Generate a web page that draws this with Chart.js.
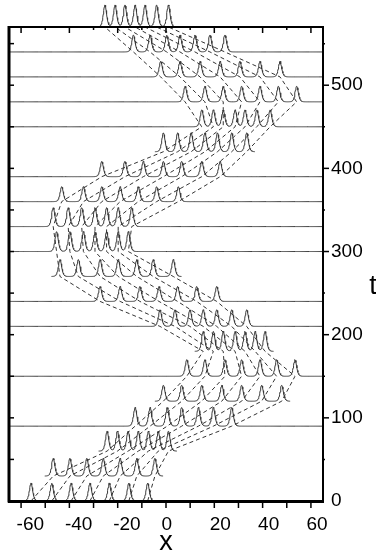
<!DOCTYPE html>
<html>
<head>
<meta charset="utf-8">
<script src="https://cdn.jsdelivr.net/npm/chart.js@4.4.0/dist/chart.umd.min.js"></script>
<style>
    html, body { margin: 0; padding: 0; background: #fff; }
    #caja { width: 376px; height: 557px; }
</style>
</head>
<body>
<div id="caja"><canvas id="grafica" width="376" height="557"></canvas></div>
<script>
// Tiempos de cada perfil
var tiempos = [0, 30, 60, 90, 120, 150, 180, 210, 240, 270, 300, 330, 360, 390, 420, 450, 480, 510, 540, 570];

// Posicion x de cada soliton en cada tiempo
var sol1 = [-55.9, -46.7, -24.4, -12.8, -1.1, 8.6, 15.4, -2.5, -27.3, -43.9, -45.3, -46.7, -43.2, -26.6, -1.1, 14.8, 7.9, -2.2, -13.5, -25.3];
var sol2 = [-47.3, -39.8, -20.1, -6.6, 6.5, 16.1, 19.6, 3.7, -19.0, -36.3, -39.8, -40.5, -34.2, -17.0, 4.8, 19.6, 16.1, 5.8, -6.6, -21.1];
var sol3 = [-39.3, -32.8, -15.7, 0.5, 14.8, 24.4, 23.7, 9.9, -10.8, -27.3, -34.2, -34.9, -26.6, -9.4, 10.4, 23.7, 23.7, 14.1, 0.3, -17.0];
var sol4 = [-31.5, -26.0, -11.5, 6.5, 23.1, 31.3, 28.6, 15.4, -2.9, -19.8, -29.4, -29.4, -19.0, -1.1, 16.1, 28.6, 31.3, 22.4, 5.8, -12.8];
var sol5 = [-23.5, -19.0, -7.3, 13.4, 31.3, 38.9, 32.7, 21.0, 4.8, -12.1, -24.6, -24.6, -11.5, 6.5, 21.3, 32.7, 38.9, 30.6, 12.0, -8.7];
var sol6 = [-15.4, -12.1, -3.2, 19.6, 39.6, 45.8, 36.9, 27.2, 12.7, -5.3, -19.8, -19.8, -3.9, 14.8, 27.2, 37.6, 46.5, 38.9, 18.2, -3.9];
var sol7 = [-7.6, -4.6, 1.0, 27.2, 47.9, 53.4, 41.0, 33.4, 21.0, 3.0, -15.6, -14.2, 5.1, 22.4, 33.4, 43.1, 54.1, 47.2, 24.4, 1.0];

// Altura de los picos en cada tiempo (unidades de t)
var alturas = [21.6, 21.3, 24, 22.5, 19.2, 20, 24, 20, 18, 20.4, 24, 22.8, 18, 18.4, 22.8, 20.4, 18.8, 18.8, 20.4, 26.5];

// Perfiles que llevan linea base completa
var lineaCompleta = [1, 0, 0, 1, 0, 1, 0, 1, 1, 0, 1, 1, 1, 1, 0, 1, 1, 1, 1, 1];

// Etiquetas de los ejes
var ticksX = [-60, -40, -20, 0, 20, 40, 60];
var ticksT = [0, 100, 200, 300, 400, 500];

var solitones = [sol1, sol2, sol3, sol4, sol5, sol6, sol7];
var ancho = 0.9;

// Perfil de un tiempo: linea base con un pico por soliton
function perfil(k) {
    var pos = solitones.map(function(s) { return s[k]; });
    var lo = lineaCompleta[k] ? -65 : Math.min.apply(null, pos) - 3.5;
    var hi = lineaCompleta[k] ? 65 : Math.max.apply(null, pos) + 3.5;
    var puntos = [];
    for (var x = lo; x <= hi + 1e-9; x += 0.2) {
        var y = tiempos[k];
        pos.forEach(function(p) {
            var s = 1 / Math.cosh((x - p) / ancho);
            y += alturas[k] * s * s;
        });
        puntos.push({x: x, y: y});
    }
    return puntos;
}

var datasets = [];

// Trayectorias punteadas
solitones.forEach(function(s) {
    datasets.push({
        data: s.map(function(v, k) { return {x: v, y: tiempos[k]}; }),
        borderColor: '#333',
        borderWidth: 1,
        borderDash: [4, 3],
        pointRadius: 0,
        tension: 0,
        clip: false
    });
});

// Perfiles
tiempos.forEach(function(t, k) {
    datasets.push({
        data: perfil(k),
        borderColor: '#3a3a3a',
        borderWidth: 1,
        pointRadius: 0,
        tension: 0,
        clip: false
    });
});

var fuente = '"Liberation Sans", Arial, sans-serif';

// Marco, marcas de los ejes y etiqueta t
var marco = {
    id: 'marco',
    afterDraw: function(chart) {
        var ctx = chart.ctx, a = chart.chartArea;
        var sx = chart.scales.x, sy = chart.scales.y;
        function linea(x1, y1, x2, y2) {
            ctx.beginPath();
            ctx.moveTo(x1, y1);
            ctx.lineTo(x2, y2);
            ctx.stroke();
        }
        ctx.save();
        ctx.strokeStyle = '#000';
        ctx.lineWidth = 3;
        linea(a.left, a.top - 1, a.left, a.bottom + 1.5);
        ctx.lineWidth = 2;
        linea(a.left, a.top, a.right, a.top);
        ctx.lineWidth = 1.5;
        for (var v = -60; v <= 60; v += 10) {
            var px = sx.getPixelForValue(v);
            var mayor = v % 20 === 0;
            linea(px, a.bottom, px, a.bottom + 7);
            linea(px, a.top, px, a.top + (mayor ? 6 : 3));
        }
        for (var w = 50; w <= 550; w += 50) {
            var py = sy.getPixelForValue(w);
            var mayorT = w % 100 === 0;
            linea(a.right, py, a.right + (mayorT ? 6 : 2), py);
            linea(a.left, py, a.left + 5, py);
        }
        ctx.fillStyle = '#000';
        ctx.font = '27px ' + fuente;
        ctx.textAlign = 'center';
        ctx.textBaseline = 'middle';
        ctx.fillText('t', a.right + 50, sy.getPixelForValue(258));
        ctx.restore();
    }
};

window.onload = function() {
    var ctx = document.getElementById('grafica').getContext('2d');
    window.myChart = new Chart(ctx, {
        type: 'line',
        data: { datasets: datasets },
        options: {
            responsive: false,
            devicePixelRatio: 1,
            animation: false,
            layout: { padding: { left: 9, top: 27, right: 0, bottom: 0 } },
            plugins: {
                legend: { display: false },
                tooltip: { enabled: false }
            },
            scales: {
                x: {
                    type: 'linear',
                    position: 'bottom',
                    min: -65,
                    max: 65,
                    afterBuildTicks: function(axis) {
                        axis.ticks = ticksX.map(function(v) { return {value: v}; });
                    },
                    afterFit: function(scale) { scale.height = 56; },
                    grid: { display: false, drawTicks: false },
                    border: { display: true, color: '#000', width: 3, z: 1 },
                    ticks: {
                        autoSkip: false,
                        maxRotation: 0,
                        align: 'start',
                        labelOffset: -4.5,
                        padding: 12,
                        color: '#000',
                        font: { family: fuente, size: 19 },
                        callback: function(v) { return String(v); }
                    },
                    title: {
                        display: true,
                        text: 'x',
                        color: '#000',
                        font: { family: fuente, size: 27, lineHeight: 1 },
                        padding: { top: 0, bottom: 1 }
                    }
                },
                y: {
                    type: 'linear',
                    position: 'right',
                    min: 0,
                    max: 570,
                    afterBuildTicks: function(axis) {
                        axis.ticks = ticksT.map(function(v) { return {value: v}; });
                    },
                    afterFit: function(scale) { scale.width = 53; },
                    grid: { display: false, drawTicks: false },
                    border: { display: true, color: '#000', width: 2, z: 1 },
                    ticks: {
                        autoSkip: false,
                        padding: 8,
                        color: '#000',
                        font: { family: fuente, size: 19 },
                        callback: function(v) { return String(v); }
                    }
                }
            }
        },
        plugins: [marco]
    });
};
</script>
</body>
</html>
